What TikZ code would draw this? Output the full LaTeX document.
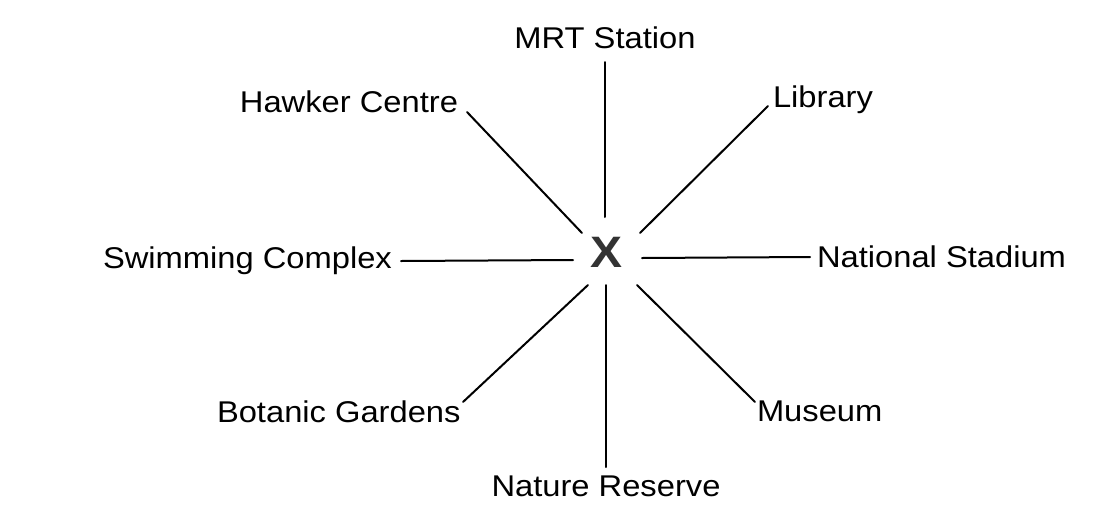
\documentclass[tikz,border=0pt]{standalone}
\usepackage{fontspec}
\setmainfont[FakeStretch=1.09]{Liberation Sans}
\begin{document}
\begin{tikzpicture}[x=1pt,y=-1pt,
  lbl/.style={inner sep=0pt,outer sep=0pt,font=\fontsize{30}{36}\selectfont},
  spoke/.style={line width=2pt,black,line cap=round}]
\useasboundingbox[fill=white] (0,0) rectangle (1109,507);
% centre
\node[inner sep=0pt,font=\fontsize{44}{50}\selectfont\bfseries,text=black!80] (x) at (606,252) {X};
% labels
\node[lbl,anchor=base] (mrt) at (605,48) {MRT Station};
\node[lbl,anchor=base east] (hawk) at (458,112) {Hawker Centre};
\node[lbl,anchor=base west] (lib) at (773,107) {Library};
\node[lbl,anchor=base west] (swim) at (103,268) {Swimming Complex};
\node[lbl,anchor=base west] (nat) at (817,267) {National Stadium};
\node[lbl,anchor=base west] (bot) at (217,422) {Botanic Gardens};
\node[lbl,anchor=base west] (mus) at (757,421) {Museum};
\node[lbl,anchor=base] (nr) at (606,496) {Nature Reserve};
% spoke ends
\coordinate (mrtA) at (605,62);   \coordinate (mrtB) at (605,217);
\coordinate (hawkA) at (467,112); \coordinate (hawkB) at (582,233);
\coordinate (libA) at (768,106);  \coordinate (libB) at (640,233);
\coordinate (swimA) at (401,261); \coordinate (swimB) at (573,260);
\coordinate (natA) at (810,257);  \coordinate (natB) at (642,258);
\coordinate (botA) at (463,402);  \coordinate (botB) at (588,285);
\coordinate (nrA) at (606,467);   \coordinate (nrB) at (606,285);
\coordinate (musA) at (755,402);  \coordinate (musB) at (637,285);
\draw[spoke] (mrtA) -- (mrtB);
\draw[spoke] (hawkA) -- (hawkB);
\draw[spoke] (libA) -- (libB);
\draw[spoke] (swimA) -- (swimB);
\draw[spoke] (natA) -- (natB);
\draw[spoke] (botA) -- (botB);
\draw[spoke] (nrA) -- (nrB);
\draw[spoke] (musA) -- (musB);
\end{tikzpicture}
\end{document}
